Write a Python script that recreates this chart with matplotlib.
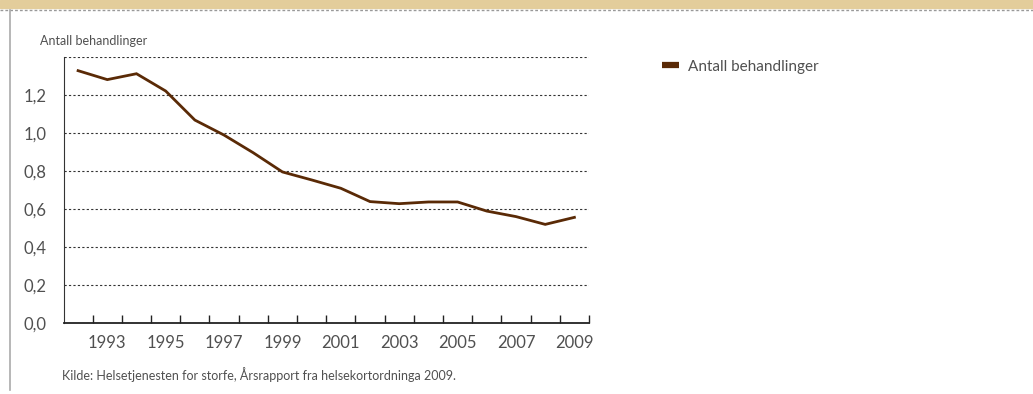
import numpy as np
import matplotlib.pyplot as plt
from matplotlib.lines import Line2D

plt.rcParams['font.family'] = ['Lato', 'DejaVu Sans']

years = list(range(1992, 2010))
behandlinger = [1.328, 1.281, 1.312, 1.221, 1.068, 0.989, 0.896, 0.795, 0.753, 0.709,
                0.639, 0.628, 0.637, 0.637, 0.589, 0.560, 0.519, 0.556]
ytick_vals = [0.0, 0.2, 0.4, 0.6, 0.8, 1.0, 1.2]
ytick_labels = ['0,0', '0,2', '0,4', '0,6', '0,8', '1,0', '1,2']
xtick_years = list(range(1993, 2010, 2))

tekst = '#505050'
brun = '#5a2a06'

fig = plt.figure(figsize=(10.33, 3.94), dpi=100)

# beige stripe at the top + dashed line under it
fig.patches.append(plt.Rectangle((0, 1 - 8 / 394), 1, 8 / 394, transform=fig.transFigure,
                                 color='#e3cd9b', zorder=0))
fig.lines.append(Line2D([0, 1], [1 - 9.5 / 394] * 2, transform=fig.transFigure,
                        color='#999999', lw=1, ls=(0, (2, 1.5))))
# vertical line on the left
fig.lines.append(Line2D([9.5 / 1033] * 2, [4 / 394, 1 - 10 / 394], transform=fig.transFigure,
                        color='#aaaaaa', lw=1.2))

ax = fig.add_axes([63.5 / 1033, 71 / 394, (589 - 63.5) / 1033, (323 - 57) / 394])
ax.plot(years, behandlinger, color=brun, lw=2, solid_joinstyle='miter')

ax.set_xlim(1991.5, 2009.5)
ax.set_ylim(0, 1.4)

ax.set_yticks(ytick_vals + [1.4])
ax.set_yticklabels(ytick_labels + [''])
ax.grid(axis='y', color='#333333', ls=(0, (2, 2)), lw=0.8)
ax.set_axisbelow(True)

ax.set_xticks(xtick_years)
ax.set_xticklabels([str(y) for y in xtick_years])
ax.set_xticks([y + 0.5 for y in years], minor=True)
ax.tick_params(axis='x', which='major', length=0, pad=9, labelsize=12, labelcolor=tekst)
ax.tick_params(axis='x', which='minor', direction='in', length=6, width=1, color='#222222')
ax.tick_params(axis='y', length=0, pad=12, labelsize=12, labelcolor=tekst)

for s in ['top', 'right']:
    ax.spines[s].set_visible(False)
ax.spines['left'].set_color('#333333')
ax.spines['bottom'].set_color('#222222')
ax.spines['bottom'].set_linewidth(1.3)

fig.text(40 / 1033, 1 - 41 / 394, 'Antall behandlinger', fontsize=9, color=tekst, va='center')
fig.text(62 / 1033, 1 - 375 / 394,
         'Kilde: Helsetjenesten for storfe, Årsrapport fra helsekortordninga 2009.',
         fontsize=9, color=tekst, va='center')

ax.legend([Line2D([], [], color=brun, lw=4.5, solid_capstyle='butt')], ['Antall behandlinger'],
          loc='upper left', bbox_to_anchor=(648 / 1033, 1 - 46 / 394),
          bbox_transform=fig.transFigure, frameon=False, fontsize=11,
          labelcolor=tekst, handlelength=1.1, handletextpad=0.65)

fig.savefig('out.png', dpi=100)
